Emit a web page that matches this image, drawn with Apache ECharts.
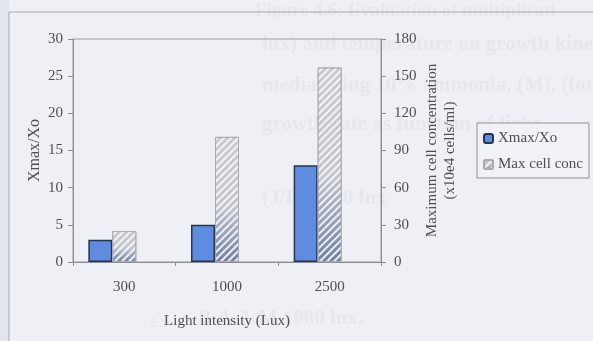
<!DOCTYPE html>
<html>
<head>
<meta charset="utf-8">
<script src="https://cdn.jsdelivr.net/npm/echarts@6/dist/echarts.min.js"></script>
<style>
  html, body { margin: 0; padding: 0; background: #eef0f5; }
  #chart { width: 593px; height: 341px; }
</style>
</head>
<body>
<div id="chart"></div>
<script>
// Light intensity categories (Lux)
const lightLevels = ['300', '1000', '2500'];
// Ratio of maximum to initial biomass
const xmaxOverXo = [3, 5, 13];
// Maximum cell concentration (x10e4 cells/ml)
const maxCellConc = [25, 101, 157];
// Empty third slot kept in each category group
const emptySlot = [null, null, null];
// Axis ranges
const leftAxisTicks = [0, 30, 5];
const rightAxisTicks = [0, 180, 30];

const serif = '"Liberation Serif", "DejaVu Serif", serif';
const textGrey = '#4d4f55';
const axisGrey = '#8c8e94';

// Faint print from the page behind the figure
const pageLines = [
  { text: 'Figure 4.6: Evaluation of multiplicati', x: 255, y: 2, size: 19 },
  { text: 'lux) and temperature on growth kine', x: 262, y: 34, size: 21 },
  { text: 'media using 10% ammonia, (M), (for', x: 262, y: 75, size: 21 },
  { text: 'growth rate as function of light', x: 262, y: 114, size: 21 },
  { text: '(J/L) 1000 lux', x: 262, y: 188, size: 21 },
  { text: '\u25B3      B.A.A.M 1000 lux.', x: 150, y: 308, size: 21 }
];

const chart = echarts.init(document.getElementById('chart'));

const graphics = [
  { type: 'rect', shape: { x: 0, y: 0, width: 9, height: 341 }, style: { fill: '#e2e5eb' }, z: -10, silent: true }
];
pageLines.forEach(l => graphics.push({
  type: 'text', left: l.x, top: l.y, z: -9, silent: true,
  style: { text: l.text, font: 'bold ' + l.size + 'px ' + serif, fill: 'rgba(170,176,192,0.13)' }
}));
graphics.push(
  { type: 'line', shape: { x1: 9, y1: 12, x2: 593, y2: 12 }, style: { stroke: '#a4a7ad', lineWidth: 1 }, z: -5, silent: true },
  { type: 'line', shape: { x1: 9, y1: 12, x2: 9, y2: 341 }, style: { stroke: '#a4a7ad', lineWidth: 1 }, z: -5, silent: true }
);

chart.setOption({
  backgroundColor: '#eef0f5',
  animation: false,
  graphic: graphics,
  grid: {
    left: 73, right: 212, top: 39, bottom: 79,
    show: true, borderColor: '#9a9ca2', borderWidth: 1, backgroundColor: 'transparent'
  },
  legend: {
    orient: 'vertical',
    left: 477, top: 123,
    padding: [8, 6, 6, 6],
    itemWidth: 9, itemHeight: 9, itemGap: 11,
    borderColor: '#8f9196', borderWidth: 1, borderRadius: 0,
    backgroundColor: '#f0f2f6',
    textStyle: { fontFamily: serif, fontSize: 15, color: textGrey },
    data: ['Xmax/Xo', 'Max cell conc']
  },
  xAxis: {
    type: 'category',
    data: lightLevels,
    axisLine: { lineStyle: { color: axisGrey, width: 1 } },
    axisTick: { show: true, length: 4, lineStyle: { color: axisGrey } },
    axisLabel: { fontFamily: serif, fontSize: 15, color: textGrey, margin: 18 },
    name: 'Light intensity (Lux)',
    nameLocation: 'middle',
    nameGap: 52,
    nameTextStyle: { fontFamily: serif, fontSize: 15, color: textGrey }
  },
  yAxis: [
    {
      type: 'value',
      min: leftAxisTicks[0], max: leftAxisTicks[1], interval: leftAxisTicks[2],
      axisLine: { show: true, lineStyle: { color: axisGrey } },
      axisTick: { show: true, length: 5, lineStyle: { color: axisGrey } },
      splitLine: { show: false },
      axisLabel: { fontFamily: serif, fontSize: 15, color: textGrey, margin: 10 },
      name: 'Xmax/Xo',
      nameLocation: 'middle',
      nameRotate: 90,
      nameGap: 30,
      nameMoveOverlap: false,
      nameTextStyle: { fontFamily: serif, fontSize: 16, color: textGrey }
    },
    {
      type: 'value',
      position: 'right',
      min: rightAxisTicks[0], max: rightAxisTicks[1], interval: rightAxisTicks[2],
      axisLine: { show: true, lineStyle: { color: axisGrey } },
      axisTick: { show: true, length: 5, lineStyle: { color: axisGrey } },
      splitLine: { show: false },
      axisLabel: { fontFamily: serif, fontSize: 15, color: textGrey, margin: 13 },
      name: 'Maximum cell concentration\n(x10e4 cells/ml)',
      nameLocation: 'middle',
      nameRotate: 90,
      nameGap: 42,
      nameMoveOverlap: false,
      nameTextStyle: { fontFamily: serif, fontSize: 15, color: textGrey, lineHeight: 18 }
    }
  ],
  series: [
    {
      name: 'Xmax/Xo',
      type: 'bar',
      yAxisIndex: 0,
      data: xmaxOverXo,
      barWidth: 24,
      barGap: '0%',
      itemStyle: {
        color: '#5d8ce0',
        borderColor: '#2b3346',
        borderWidth: 1.5
      }
    },
    {
      name: 'Max cell conc',
      type: 'bar',
      yAxisIndex: 1,
      data: maxCellConc,
      barWidth: 24,
      itemStyle: {
        color: new echarts.graphic.LinearGradient(0, 0, 0, 1, [
          { offset: 0, color: '#c9cbd0' },
          { offset: 0.55, color: '#c3c6cd' },
          { offset: 1, color: '#6f7fa6' }
        ]),
        borderColor: '#a9abb0',
        borderWidth: 1,
        decal: {
          symbol: 'rect',
          symbolSize: 1,
          dashArrayX: [1, 0],
          dashArrayY: [2, 3],
          rotation: -Math.PI / 4,
          color: 'rgba(250,250,252,0.9)'
        }
      }
    },
    {
      name: 'empty',
      type: 'bar',
      yAxisIndex: 0,
      data: emptySlot,
      barWidth: 24,
      silent: true
    }
  ]
});
</script>
</body>
</html>
